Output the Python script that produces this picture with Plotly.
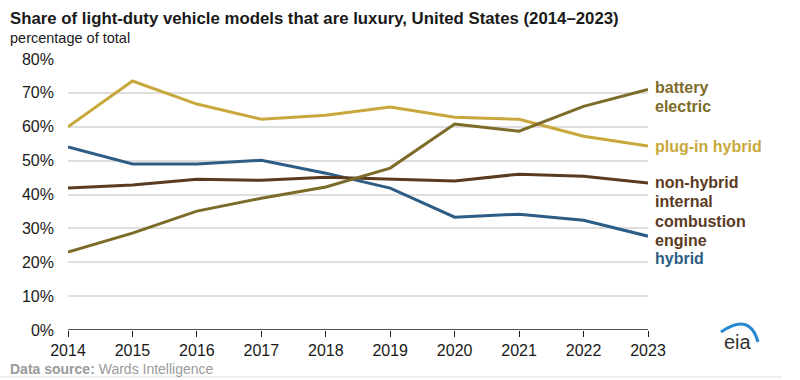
import plotly.graph_objects as go

years = [2014, 2015, 2016, 2017, 2018, 2019, 2020, 2021, 2022, 2023]
battery_electric = [23.0, 28.6, 35.1, 38.9, 42.2, 47.8, 60.8, 58.7, 66.0, 71.0]
plug_in_hybrid = [60.0, 73.5, 66.7, 62.2, 63.4, 65.8, 62.8, 62.2, 57.2, 54.3]
non_hybrid_ice = [41.9, 42.8, 44.5, 44.2, 45.1, 44.5, 44.0, 46.0, 45.4, 43.4]
hybrid = [54.0, 49.0, 49.0, 50.1, 46.3, 41.9, 33.3, 34.2, 32.4, 27.7]

y_ticks = [0, 10, 20, 30, 40, 50, 60, 70, 80]
y_tick_labels = ["0%", "10%", "20%", "30%", "40%", "50%", "60%", "70%", "80%"]

series = [
    ("plug-in hybrid", plug_in_hybrid, "#c8a83c", [("plug-in hybrid", 54.3)]),
    ("hybrid", hybrid, "#2d5d84", [("hybrid", 21.0)]),
    ("non-hybrid internal combustion engine", non_hybrid_ice, "#5b3b1f",
     [("non-hybrid", 43.4), ("internal", 37.8), ("combustion", 32.0), ("engine", 26.4)]),
    ("battery electric", battery_electric, "#7d6b2a", [("battery", 71.6), ("electric", 66.0)]),
]

font = "Liberation Sans, Arial, sans-serif"

fig = go.Figure()
for name, vals, color, labels in series:
    fig.add_trace(go.Scatter(x=years, y=vals, mode="lines", name=name,
                             line=dict(color=color, width=3), hoverinfo="x+y+name"))
    for txt, ly in labels:
        fig.add_annotation(x=2023, y=ly, xref="x", yref="y", text="<b>%s</b>" % txt,
                           showarrow=False, xanchor="left", yanchor="middle", xshift=5,
                           align="left", font=dict(family=font, size=16, color=color))

def px(xp, yp):
    return (xp - 68) / 580, (330 - yp) / 271

tx, ty = px(8, 18)
fig.add_annotation(text="<b>Share of light-duty vehicle models that are luxury, United States (2014\u20132023)</b>",
                   xref="paper", yref="paper", x=tx, y=ty, xanchor="left", yanchor="middle",
                   showarrow=False, font=dict(family=font, size=16.8, color="#1a1a1a"))
tx, ty = px(8, 38)
fig.add_annotation(text="percentage of total",
                   xref="paper", yref="paper", x=tx, y=ty, xanchor="left", yanchor="middle",
                   showarrow=False, font=dict(family=font, size=14.5, color="#1a1a1a"))
tx, ty = px(8, 369)
fig.add_annotation(text="<b>Data source:</b> Wards Intelligence",
                   xref="paper", yref="paper", x=tx, y=ty, xanchor="left", yanchor="middle",
                   showarrow=False, font=dict(family=font, size=14, color="#9a9a9a"))
# eia logo
tx, ty = px(738, 342)
fig.add_annotation(text="eia", xref="paper", yref="paper", x=tx, y=ty,
                   xanchor="center", yanchor="middle", showarrow=False,
                   font=dict(family=font, size=20, color="#333333"))
x0, y0 = px(721, 332)
xc, yc = px(750, 312)
x1, y1 = px(758, 342)
fig.add_shape(type="path", xref="paper", yref="paper",
              path="M %f,%f Q %f,%f %f,%f" % (x0, y0, xc, yc, x1, y1),
              line=dict(color="#2a8ad0", width=3))
lx0, ly0 = px(0, 377)
lx1, ly1 = px(782, 377)
fig.add_shape(type="line", xref="paper", yref="paper", x0=lx0, x1=lx1, y0=ly0, y1=ly1,
              line=dict(color="#dddddd", width=1))

fig.update_layout(
    width=800, height=380,
    margin=dict(l=68, r=152, t=59, b=50),
    plot_bgcolor="white", paper_bgcolor="white",
    showlegend=False,
    font=dict(family=font, size=16, color="#1a1a1a"),
    xaxis=dict(range=[2014, 2023], tickmode="array", tickvals=years,
               ticktext=[str(y) for y in years], showgrid=False, zeroline=False,
               showline=False, ticks="outside", ticklen=6, tickcolor="#1a1a1a",
               tickfont=dict(size=16)),
    yaxis=dict(range=[0, 80], tickmode="array", tickvals=y_ticks, ticktext=y_tick_labels,
               showgrid=True, gridcolor="#dedede", gridwidth=1.5, zeroline=False,
               showline=False, ticks="", tickfont=dict(size=16), ticklabelstandoff=13),
)
fig.add_shape(type="line", xref="paper", yref="y", x0=0, x1=1, y0=0, y1=0,
              line=dict(color="#1a1a1a", width=1.5))

fig.write_html("out.html", config={"displayModeBar": False},
               post_script="document.body.style.margin='0';document.body.style.overflow='hidden';window.dispatchEvent(new Event('resize'));")
